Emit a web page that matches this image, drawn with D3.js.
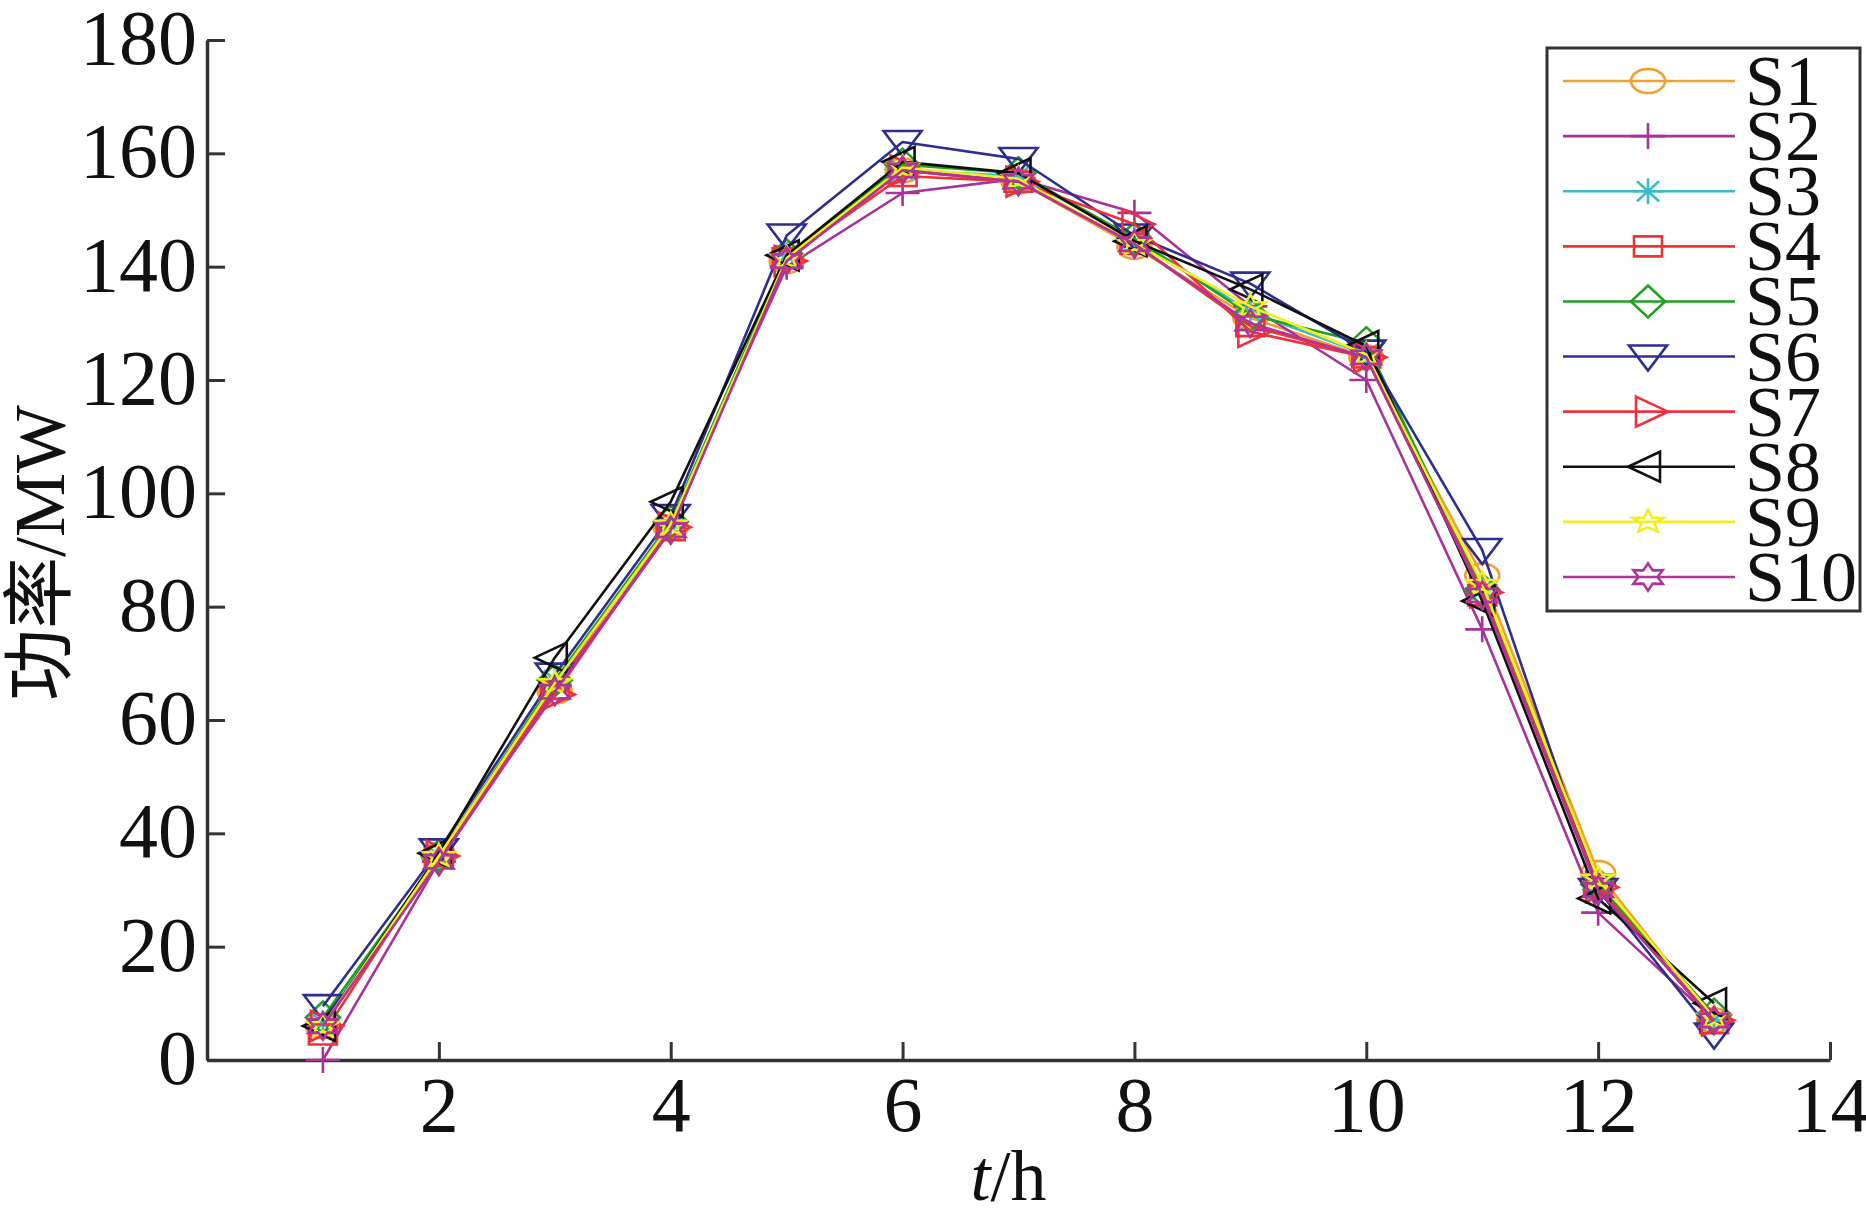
<!DOCTYPE html>
<html>
<head>
<meta charset="utf-8">
<script src="https://cdn.jsdelivr.net/npm/d3@7/dist/d3.min.js"></script>
<style>
  html, body { margin: 0; padding: 0; background: #fff; }
  svg { display: block; }
</style>
</head>
<body>
<svg id="chart" width="1866" height="1212"></svg>
<script>
// ---- data ----
const hours = [1, 2, 3, 4, 5, 6, 7, 8, 9, 10, 11, 12, 13];
const seriesNames = ["S1", "S2", "S3", "S4", "S5", "S6", "S7", "S8", "S9", "S10"];
const s1  = [6,   36,   65,   94,   141,   157,   155,   143.5, 131,   124,   85.5, 33,   7];
const s2  = [0,   35,   66,   95,   140,   153,   155.5, 149.5, 133,   120,   76,   26,   7];
const s3  = [6.5, 36,   67,   94,   142,   157,   156,   145,   132,   124.5, 83,   30,   7];
const s4  = [4.5, 36,   65.5, 93.5, 141.5, 156,   155,   144,   129.5, 124,   82,   31,   6.5];
const s5  = [7.5, 36,   67,   95,   142,   158,   156.5, 145,   131.5, 126.5, 83,   31,   8];
const s6  = [9.5, 37,   68,   96,   145.5, 162,   159,   145.5, 137,   125,   90,   30,   4.5];
const s7  = [6,   36,   64.5, 94,   141,   157,   155,   147.5, 128.5, 124,   82.5, 30.5, 7];
const s8  = [6,   36.5, 71,   98.5, 142,   158.5, 156.5, 144.5, 136,   126,   81,   28.5, 10];
const s9  = [6,   36,   66.5, 94.5, 141.5, 157.5, 155.5, 144,   133,   124.5, 84,   32,   7.5];
const s10 = [6,   35,   65,   93.5, 141,   157,   155,   144,   130,   124,   82,   30,   7];
const seriesValues = [s1, s2, s3, s4, s5, s6, s7, s8, s9, s10];
const xTicks = [2, 4, 6, 8, 10, 12, 14];
const yTicks = [0, 20, 40, 60, 80, 100, 120, 140, 160, 180];
const xTitleItalic = "t";
const xTitleRest = "/h";
const yTitle = "功率/MW";

// ---- style ----
const colors = ["#F0A030", "#A8329A", "#3ABCC8", "#EE3333", "#22A022",
                "#2E2E8E", "#F03040", "#111111", "#EEEE22", "#B0359A"];
const markers = ["circle", "plus", "asterisk", "square", "diamond",
                 "triDown", "triRight", "triLeft", "star5", "hexagram"];

function markerPath(type) {
  const p = d3.path();
  switch (type) {
    case "circle": {
      const rx = 17, ry = 12, n = 40;
      for (let i = 0; i <= n; i++) {
        const a = i / n * 2 * Math.PI;
        const xx = rx * Math.cos(a), yy = ry * Math.sin(a);
        if (i === 0) p.moveTo(xx, yy); else p.lineTo(xx, yy);
      }
      p.closePath();
      break;
    }
    case "plus":
      p.moveTo(-17, 0); p.lineTo(17, 0);
      p.moveTo(0, -13); p.lineTo(0, 13);
      break;
    case "asterisk":
      p.moveTo(-16, 0); p.lineTo(16, 0);
      p.moveTo(0, -13); p.lineTo(0, 13);
      p.moveTo(-11, -10); p.lineTo(11, 10);
      p.moveTo(-11, 10); p.lineTo(11, -10);
      break;
    case "square":
      p.rect(-14, -10, 28, 20);
      break;
    case "diamond":
      p.moveTo(0, -16); p.lineTo(17, 0); p.lineTo(0, 16); p.lineTo(-17, 0); p.closePath();
      break;
    case "triDown":
      p.moveTo(-19, -11); p.lineTo(19, -11); p.lineTo(0, 14); p.closePath();
      break;
    case "triRight":
      p.moveTo(-12, -15); p.lineTo(20, 0); p.lineTo(-12, 15); p.closePath();
      break;
    case "triLeft":
      p.moveTo(12, -15); p.lineTo(-20, 0); p.lineTo(12, 15); p.closePath();
      break;
    case "star5": {
      const R = 16, r = 7, sy = 0.75;
      for (let i = 0; i < 10; i++) {
        const a = -Math.PI / 2 + i * Math.PI / 5;
        const rr = i % 2 === 0 ? R : r;
        const xx = rr * Math.cos(a), yy = rr * Math.sin(a) * sy;
        if (i === 0) p.moveTo(xx, yy); else p.lineTo(xx, yy);
      }
      p.closePath();
      break;
    }
    case "hexagram": {
      const R = 17, r = 9.5, sy = 0.8;
      for (let i = 0; i < 12; i++) {
        const a = -Math.PI / 2 + i * Math.PI / 6;
        const rr = i % 2 === 0 ? R : r;
        const xx = rr * Math.cos(a), yy = rr * Math.sin(a) * sy;
        if (i === 0) p.moveTo(xx, yy); else p.lineTo(xx, yy);
      }
      p.closePath();
      break;
    }
  }
  return p.toString();
}

const svg = d3.select("#chart");
const W = 1866, H = 1212;
const margin = { left: 207, right: W - 1830, top: 40, bottom: H - 1060 };

const x = d3.scaleLinear().domain([0, 14]).range([margin.left, W - margin.right]);
const y = d3.scaleLinear().domain([0, 180]).range([H - margin.bottom, margin.top]);

const fontSerif = "'Liberation Serif', 'Times New Roman', serif";
const axisColor = "#333";

// ---- axes ----
const xAxis = d3.axisBottom(x).tickValues(xTicks).tickSizeInner(-18).tickSizeOuter(0).tickPadding(16)
  .tickFormat(d3.format("d"));
const yAxis = d3.axisLeft(y).tickValues(yTicks).tickSizeInner(-18).tickSizeOuter(0).tickPadding(10)
  .tickFormat(d3.format("d"));

const gx = svg.append("g").attr("transform", `translate(0,${y(0)})`).call(xAxis);
const gy = svg.append("g").attr("transform", `translate(${x(0)},0)`).call(yAxis);

[gx, gy].forEach(g => {
  g.select(".domain").attr("stroke", axisColor).attr("stroke-width", 3.5);
  g.selectAll(".tick line").attr("stroke", axisColor).attr("stroke-width", 3);
  g.selectAll(".tick text").attr("fill", "#111").style("font-family", fontSerif).style("font-size", "78px");
});
gy.selectAll(".tick text").attr("dy", "0.3em");
gx.selectAll(".tick text").attr("dy", "0.71em");

// ---- titles ----
const xt = svg.append("text")
  .attr("x", (x(0) + x(14)) / 2 - 10)
  .attr("y", 1200)
  .attr("text-anchor", "middle")
  .style("font-family", fontSerif)
  .style("font-size", "72px")
  .attr("fill", "#111");
xt.append("tspan").style("font-style", "italic").text(xTitleItalic);
xt.append("tspan").text(xTitleRest);

svg.append("text")
  .attr("transform", `translate(64,${(y(0) + y(180)) / 2 + 3}) rotate(-90)`)
  .attr("text-anchor", "middle")
  .style("font-family", "'Liberation Serif', 'Noto Sans CJK SC', serif")
  .style("font-size", "72px")
  .attr("fill", "#111")
  .text(yTitle);

// ---- series ----
const line = d3.line().x((d, i) => x(hours[i])).y(d => y(d));
const plot = svg.append("g");

seriesValues.forEach((vals, si) => {
  const g = plot.append("g");
  g.append("path")
    .attr("d", line(vals))
    .attr("fill", "none")
    .attr("stroke", colors[si])
    .attr("stroke-width", 2.6)
    .attr("stroke-linejoin", "round");
  const mp = markerPath(markers[si]);
  g.selectAll("path.m")
    .data(vals)
    .join("path")
    .attr("class", "m")
    .attr("d", mp)
    .attr("transform", (d, i) => `translate(${x(hours[i])},${y(d)})`)
    .attr("fill", "none")
    .attr("stroke", colors[si])
    .attr("stroke-width", 2.6);
});

// ---- legend ----
const lg = svg.append("g");
const lgBox = { x0: 1547, y0: 48, x1: 1860, y1: 611 };
lg.append("rect")
  .attr("x", lgBox.x0).attr("y", lgBox.y0)
  .attr("width", lgBox.x1 - lgBox.x0).attr("height", lgBox.y1 - lgBox.y0)
  .attr("fill", "#fff").attr("stroke", "#333").attr("stroke-width", 3);
const rowY = d3.scalePoint().domain(seriesNames).range([81, 577]);
seriesNames.forEach((name, si) => {
  const ry = rowY(name);
  lg.append("line")
    .attr("x1", 1563).attr("x2", 1735).attr("y1", ry).attr("y2", ry)
    .attr("stroke", colors[si]).attr("stroke-width", 2.6);
  lg.append("path")
    .attr("d", markerPath(markers[si]))
    .attr("transform", `translate(1648,${ry})`)
    .attr("fill", "none").attr("stroke", colors[si]).attr("stroke-width", 2.6);
  lg.append("text")
    .attr("x", 1745).attr("y", ry + 24)
    .style("font-family", fontSerif).style("font-size", "72px")
    .attr("fill", "#111")
    .text(name);
});
</script>
</body>
</html>
